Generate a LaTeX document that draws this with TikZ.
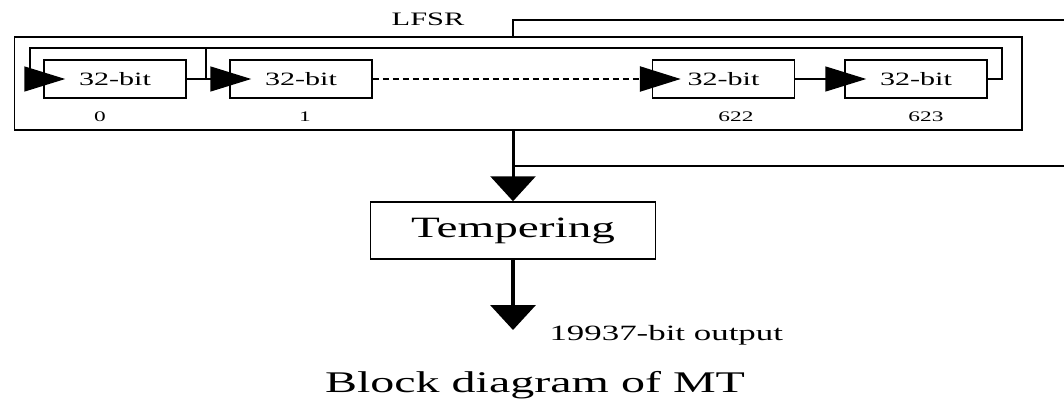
\documentclass[tikz,border=0pt]{standalone}
\usepackage{fontspec}
\setmainfont{Liberation Serif}
\usepackage{graphicx}
\usetikzlibrary{arrows.meta, positioning}
\newcommand{\wide}[1]{\scalebox{1.6}[1]{#1}}

\begin{document}
\begin{tikzpicture}[x=1pt, y=-1pt,
  wire/.style={line width=1.5pt},
  reg/.style={draw, line width=1.5pt, minimum width=142pt, minimum height=38pt,
    inner sep=0pt, font=\fontsize{18.8}{20}\selectfont},
  idx/.style={font=\fontsize{14.6}{16}\selectfont},
  rtip/.style={-{Triangle[length=41pt, width=25pt]}, shorten >=-22pt},
  dtip/.style={-{Triangle[length=25pt, width=45pt]}}]
  \useasboundingbox (0,0) rectangle (1064,401);

  % LFSR frame and its registers
  \node[draw, line width=1.5pt, minimum width=1007.5pt, minimum height=93pt,
    inner sep=0pt] (lfsr) at (518.25,83.5) {};
  \node[font=\fontsize{19}{20}\selectfont] (lfsrlbl) at (428,19) {\wide{LFSR}};

  \node[reg] (r0) at (115,79) {\wide{32-bit}};
  \node[reg] (r1) at (301,79) {\wide{32-bit}};
  \node[reg] (r622) at (723.5,79) {\wide{32-bit}};
  \node[reg] (r623) at (916,79) {\wide{32-bit}};

  \node[idx] (l0) at (100,117) {\wide{0}};
  \node[idx] (l1) at (305,117) {\wide{1}};
  \node[idx] (l622) at (736,117) {\wide{622}};
  \node[idx] (l623) at (926,117) {\wide{623}};

  % tempering and output
  \node[draw, line width=1.5pt, minimum width=285pt, minimum height=57pt,
    inner sep=0pt, font=\fontsize{29.5}{31}\selectfont] (temp) at (513,230.5) {\wide{Tempering}};
  \node[anchor=west, font=\fontsize{21.8}{23}\selectfont] (out) at (546,335) {\wide{19937-bit output}};
  \node[font=\fontsize{30}{32}\selectfont] (cap) at (535,385) {\wide{Block diagram of MT}};

  % wire corners
  \coordinate (inA) at (30,79);
  \coordinate (inB) at (206,79);
  \coordinate (inC) at (1002,79);
  \coordinate (fbB) at (206,48);
  \coordinate (fbC) at (1002,48);
  \coordinate (tapT) at (513,20);
  \coordinate (topR) at (1064,20);
  \coordinate (tapB) at (513,166);
  \coordinate (botR) at (1064,166);
  \coordinate (outtip) at (513,330);

  % feedback inside the LFSR
  \draw[wire] (inA) |- (fbC) -- (inC) -- (r623.east);
  \draw[wire] (fbB) -- (inB);
  \draw[wire] (r0.east) -- (inB);
  \draw[wire, rtip] (inA) -- (r0.west);
  \draw[wire, rtip] (inB) -- (r1.west);
  \draw[line width=2.5pt, dash pattern=on 6pt off 4pt, rtip, shorten >=-29pt] (r1.east) -- (r622.west);
  \draw[wire, rtip] (r622.east) -- (r623.west);

  % outer loop
  \draw[wire] (lfsr.north -| tapT) -- (tapT) -- (topR);
  \draw[wire] (tapB) -- (botR);
  \draw[line width=3pt, dtip] (lfsr.south -| temp.north) -- (temp.north);
  \draw[line width=4pt, dtip] (temp.south) -- (outtip);
\end{tikzpicture}
\end{document}
